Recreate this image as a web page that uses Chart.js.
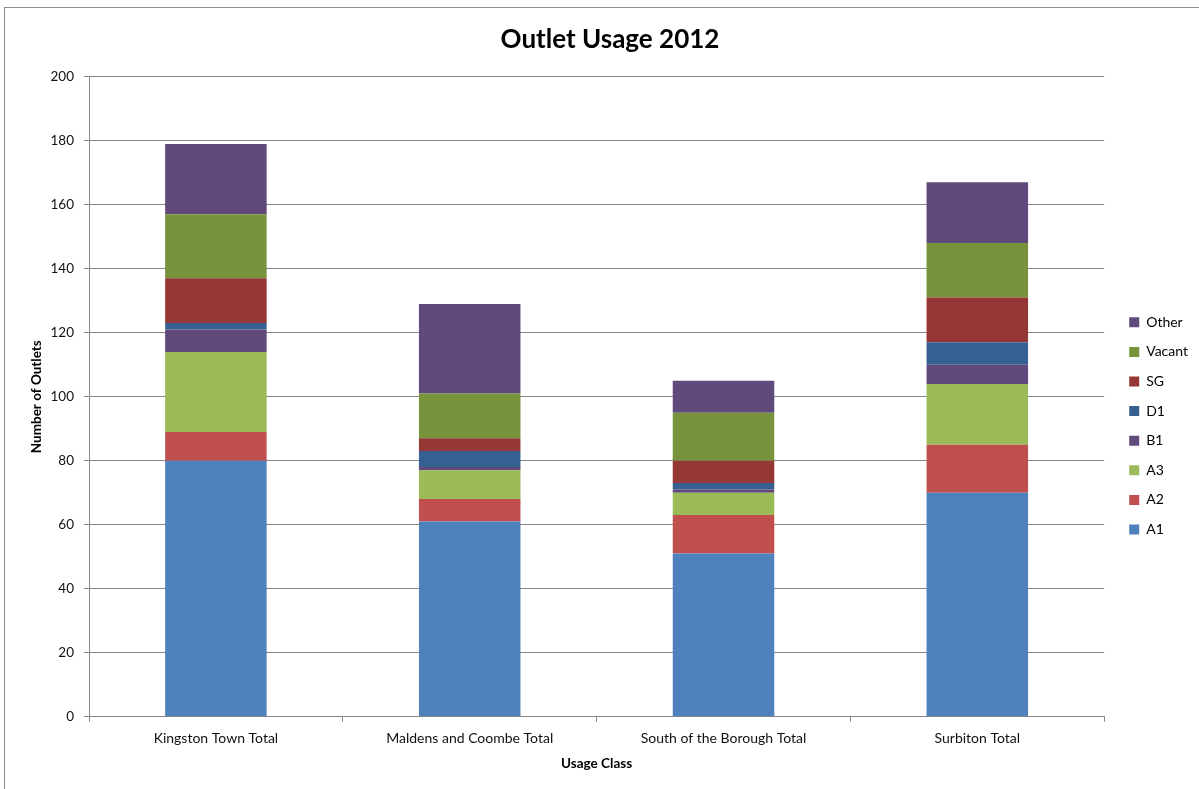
<!DOCTYPE html>
<html>
<head>
<meta charset="utf-8">
<script src="https://cdn.jsdelivr.net/npm/chart.js@4.4.1/dist/chart.umd.min.js"></script>
<style>
  html, body { margin: 0; padding: 0; background: #fff; overflow: hidden; }
  #frame { position: absolute; left: 4px; top: 7px; width: 1400px; height: 1000px; border: 1px solid #8c8c8c; }
  #c { position: absolute; left: 0; top: 0; }
</style>
</head>
<body>
<div id="frame"></div>
<canvas id="c" width="1199" height="789"></canvas>
<script>
const categories = ["Kingston Town Total", "Maldens and Coombe Total", "South of the Borough Total", "Surbiton Total"];
const A1 = [80, 61, 51, 70];
const A2 = [9, 7, 12, 15];
const A3 = [25, 9, 7, 19];
const B1 = [7, 1, 1, 6];
const D1 = [2, 5, 2, 7];
const SG = [14, 4, 7, 14];
const Vacant = [20, 14, 15, 17];
const Other = [22, 28, 10, 19];
const yTicks = [0, 20, 40, 60, 80, 100, 120, 140, 160, 180, 200];

const FONT = "Lato, 'Liberation Sans', sans-serif";
const GRID = '#868686';

const series = [
  { label: 'A1', data: A1, color: '#4F81BD' },
  { label: 'A2', data: A2, color: '#C0504D' },
  { label: 'A3', data: A3, color: '#9BBB59' },
  { label: 'B1', data: B1, color: '#604A7B' },
  { label: 'D1', data: D1, color: '#376092' },
  { label: 'SG', data: SG, color: '#953735' },
  { label: 'Vacant', data: Vacant, color: '#77933C' },
  { label: 'Other', data: Other, color: '#604A7B' }
];

new Chart(document.getElementById('c'), {
  type: 'bar',
  data: {
    labels: categories,
    datasets: series.map(s => ({
      label: s.label,
      data: s.data,
      backgroundColor: s.color,
      borderWidth: 0,
      barPercentage: 0.4,
      categoryPercentage: 1.0
    }))
  },
  options: {
    responsive: false,
    devicePixelRatio: 1,
    animation: false,
    layout: { padding: { left: 22, right: 1, top: 0, bottom: 0 } },
    plugins: {
      title: {
        display: true,
        text: 'Outlet Usage 2012',
        color: '#000',
        font: { family: FONT, size: 26, weight: 'bold', lineHeight: 1.2 },
        padding: { top: 23.9, bottom: 21.6 }
      },
      legend: {
        position: 'right',
        reverse: true,
        align: 'center',
        title: { display: true, text: '', font: { size: 12, lineHeight: 1.2 }, padding: { top: 48.4, bottom: 0 } },
        labels: {
          boxWidth: 10,
          boxHeight: 10,
          padding: 15.6,
          color: '#000',
          font: { family: FONT, size: 14 }
        }
      },
      tooltip: { enabled: false }
    },
    scales: {
      x: {
        stacked: true,
        grid: { display: true, drawOnChartArea: false, drawTicks: true, tickLength: 5, color: GRID, offset: true },
        border: { display: true, color: GRID },
        ticks: { color: '#111', font: { family: FONT, size: 14 }, padding: 8, maxRotation: 0, autoSkip: false },
        title: { display: true, text: 'Usage Class', color: '#000', font: { family: FONT, size: 13.5, weight: 'bold', lineHeight: 1.2 }, padding: { top: 1.4, bottom: 16.9 } }
      },
      y: {
        stacked: true,
        min: 0,
        max: 200,
        afterBuildTicks: s => { s.ticks = yTicks.map(v => ({ value: v })); },
        afterFit: s => { s.width = 67; },
        grid: { color: GRID, tickLength: 5, drawTicks: true },
        border: { display: true, color: GRID },
        ticks: { color: '#111', font: { family: FONT, size: 13.5 }, padding: 10 },
        title: { display: true, text: 'Number of Outlets', color: '#000', font: { family: FONT, size: 13.5, weight: 'bold', lineHeight: 1.2 }, padding: { top: 6.9, bottom: 4 } }
      },
      yR: {
        type: 'linear',
        position: 'right',
        display: true,
        grid: { display: false, drawTicks: false },
        border: { display: false },
        ticks: { display: false },
        afterFit: s => { s.width = 9.4; }
      }
    }
  }
});
</script>
</body>
</html>
